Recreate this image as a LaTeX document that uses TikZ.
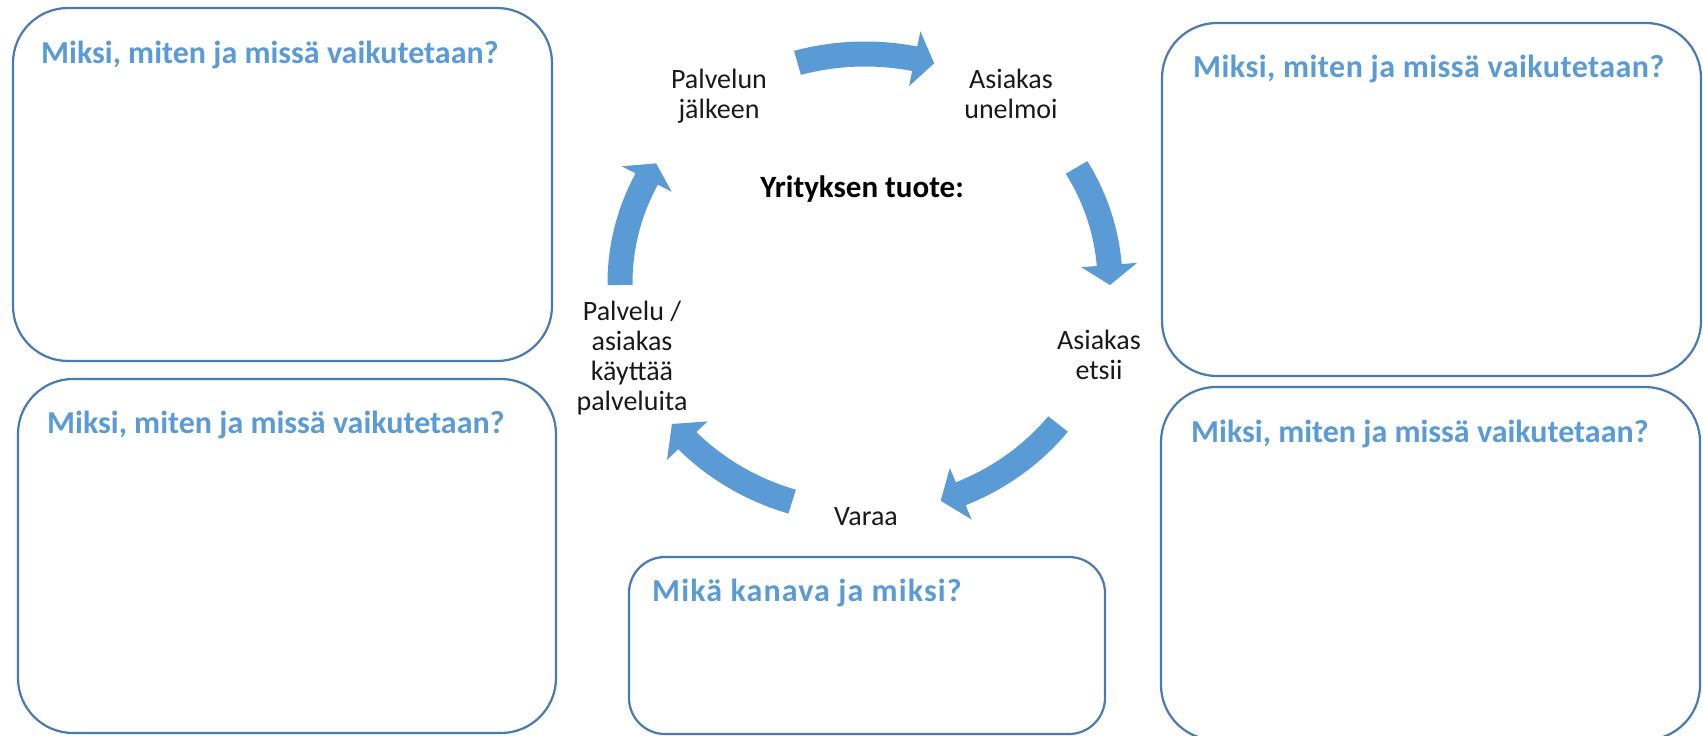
\documentclass[tikz,border=0pt]{standalone}
\usepackage{fontspec}
\setmainfont{Carlito}
\newfontfamily\spacedA{Carlito}[LetterSpace=1.5]
\newfontfamily\spacedB{Carlito}[LetterSpace=3.5]
\definecolor{boxline}{HTML}{4A7AB2}
\definecolor{titleblue}{HTML}{5B9BD5}
\definecolor{arrowblue}{HTML}{5B9BD5}
\def\ccx{865}\def\ccy{283}\def\rra{245}\def\rrb{229}\def\bw{12.5}\def\hw{28}
\newcommand{\cycarrow}[3]{%
  \fill[arrowfill] plot[domain=#1:#2,samples=40] ({\ccx+(\rra+\bw)*cos(\x)},{\ccy-(\rrb+\bw)*sin(\x)})
    -- ({\ccx+(\rra+\hw)*cos(#2)},{\ccy-(\rrb+\hw)*sin(#2)})
    -- ({\ccx+\rra*cos(#3)},{\ccy-\rrb*sin(#3)})
    -- ({\ccx+(\rra-\hw)*cos(#2)},{\ccy-(\rrb-\hw)*sin(#2)})
    -- plot[domain=#2:#1,samples=40] ({\ccx+(\rra-\bw)*cos(\x)},{\ccy-(\rrb-\bw)*sin(\x)})
    -- cycle;}
\begin{document}
\begin{tikzpicture}[x=1pt,y=-1pt,
  box/.style={draw=boxline, line width=2.2pt, rounded corners=55pt, inner sep=0pt},
  smallbox/.style={box, rounded corners=36pt},
  title/.style={font=\fontsize{32}{38}\selectfont\bfseries, text=titleblue, anchor=base west, inner sep=0pt},
  lbl/.style={font=\fontsize{28}{30}\selectfont, align=center, inner sep=0pt, anchor=base, text=black!90},
  arrowfill/.style={fill=arrowblue}]
\useasboundingbox (0,0) rectangle (1703,736);
\clip (0,0) rectangle (1703,736);
% boxes
\node[box, minimum width=539pt, minimum height=353pt] (b1) at (282.5,184.5) {};
\node[box, minimum width=538pt, minimum height=354pt] (b2) at (287,556) {};
\node[box, minimum width=539pt, minimum height=353pt] (b3) at (1431.5,199.5) {};
\node[box, minimum width=539pt, minimum height=353pt] (b4) at (1430.5,563.5) {};
\node[smallbox, minimum width=476pt, minimum height=177pt] (b5) at (867,645.5) {};
% titles
\node[title] (t1) at (41,63) {Miksi, miten ja missä vaikutetaan?};
\node[title] (t2) at (47,433) {Miksi, miten ja missä vaikutetaan?};
\node[title, font=\fontsize{32}{38}\selectfont\spacedA\bfseries] (t3) at (1193,77) {Miksi, miten ja missä vaikutetaan?};
\node[title] (t4) at (1191,442) {Miksi, miten ja missä vaikutetaan?};
\node[title, font=\fontsize{32}{38}\selectfont\spacedB\bfseries] (t5) at (652,601) {Mikä kanava ja miksi?};
% cycle labels (anchor = baseline of last line)
\node[lbl] (n1) at (719,118) {Palvelun\\jälkeen};
\node[lbl] (n2) at (1011,118) {Asiakas\\unelmoi};
\node[lbl] (n3) at (1099,379) {Asiakas\\etsii};
\node[lbl] (n4) at (866,525) {Varaa};
\node[lbl] (n5) at (632,410) {Palvelu /\\asiakas\\käyttää\\palveluita};
\node[font=\fontsize{31}{36}\selectfont\bfseries, anchor=base, inner sep=0pt] (c) at (862,197) {Yrityksen tuote:};
% cycle arrows
\cycarrow{106}{78.3}{73.6}
\cycarrow{30.3}{4.5}{-0.5}
\cycarrow{-38}{-67}{-72}
\cycarrow{-107.3}{-136.5}{-142}
\cycarrow{180.5}{153}{148.5}
\end{tikzpicture}
\end{document}
